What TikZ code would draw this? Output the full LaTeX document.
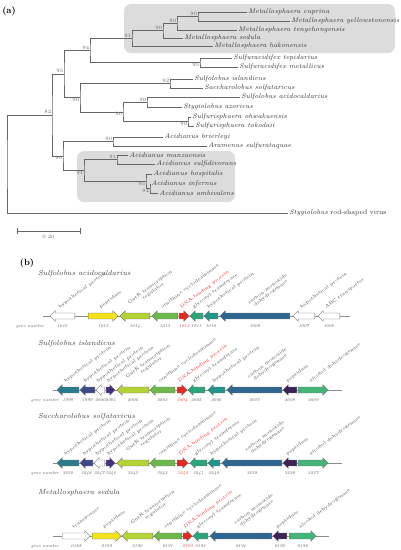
\documentclass[tikz,border=0pt]{standalone}
\usepackage{fontspec}
\usetikzlibrary{calc, shapes.arrows}
\definecolor{boxgrey}{HTML}{DCDCDC}
\definecolor{pepy}{HTML}{F3E21C}
\definecolor{gntr}{HTML}{B4D336}
\definecolor{orn}{HTML}{6DB84A}
\definecolor{dnab}{HTML}{E8281E}
\definecolor{glyc}{HTML}{2DA57A}
\definecolor{hypt}{HTML}{1F958B}
\definecolor{hypb}{HTML}{287C8E}
\definecolor{hypi}{HTML}{3F4889}
\definecolor{hypp}{HTML}{46307E}
\definecolor{codh}{HTML}{2F6690}
\definecolor{pepp}{HTML}{3D2257}
\definecolor{adh}{HTML}{45B477}

\begin{document}
\begin{tikzpicture}[x=1pt, y=-1pt,
  leaf/.style={anchor=west, inner sep=1.2pt, text=black!80, font=\fontsize{6.7}{8}\selectfont\itshape},
  boot/.style={inner sep=0.6pt, text=black!60, font=\fontsize{5}{5.5}\selectfont},
  branch/.style={draw=black!60, line width=0.5pt},
  clade/.style={fill=boxgrey, rounded corners=7pt},
  title/.style={anchor=west, inner sep=0pt, text=black!75, font=\fontsize{7.2}{8}\selectfont\itshape},
  gene/.style={single arrow, draw=black!55, line width=0.3pt, inner xsep=0pt, inner ysep=2.8pt, single arrow head extend=2.4pt, single arrow head indent=0pt, anchor=tail},
  chrom/.style={draw=black!45, line width=0.5pt},
  glab/.style={rotate=37, anchor=south west, inner sep=0.3pt, align=center, font=\fontsize{4.7}{5.1}\selectfont},
  gnum/.style={inner sep=0pt, font=\fontsize{4.3}{5}\selectfont\itshape},
  panel/.style={inner sep=0pt, font=\fontsize{9}{11}\selectfont\bfseries}]
\useasboundingbox (0,0) rectangle (400,550);

\node[panel] (pa) at (9,11) {(a)};
\fill[clade] (124,4) rectangle (395,53);
\fill[clade] (77,151) rectangle (235,202);

\node[leaf] (mcup) at (247,12) {Metallosphaera cuprina};
\node[leaf] (myel) at (290,21) {Metallosphaera yellowstonensis};
\node[leaf] (mten) at (237,30) {Metallosphaera tengchongensis};
\node[leaf] (msed) at (183,38) {Metallosphaera sedula};
\node[leaf] (mhak) at (213,46) {Metallosphaera hakonensis};
\node[leaf] (step) at (232,58) {Sulfuracidifex tepidarius};
\node[leaf] (smet) at (238,67) {Sulfuracidifex metallicus};
\node[leaf] (sisl) at (193,79) {Sulfolobus islandicus};
\node[leaf] (ssol) at (203,88) {Saccharolobus solfataricus};
\node[leaf] (saci) at (240,97) {Sulfolobus acidocaldarius};
\node[leaf] (sazo) at (182,107) {Stygiolobus azoricus};
\node[leaf] (sohw) at (191,117) {Sulfurisphaera ohwakuensis};
\node[leaf] (stok) at (194,126) {Sulfurisphaera tokodaii};
\node[leaf] (abri) at (163,137) {Acidianus brierleyi};
\node[leaf] (asuq) at (207,146) {Aramenus sulfurataquae};
\node[leaf] (aman) at (128,155) {Acidianus manzaensis};
\node[leaf] (asdv) at (155,164) {Acidianus sulfidivorans};
\node[leaf] (ahos) at (152,174) {Acidianus hospitalis};
\node[leaf] (ainf) at (150,184) {Acidianus infernus};
\node[leaf] (aamb) at (158,193) {Acidianus ambivalens};
\node[leaf, font=\fontsize{6.7}{8}\selectfont] (srsv) at (288,213) {\textit{Stygiolobus} rod-shaped virus};

\coordinate (mA) at (198,16.5);
\coordinate (mB) at (177,23);
\coordinate (mC) at (163,30.5);
\coordinate (mD) at (132,38);
\coordinate (sfx) at (200,62.5);
\coordinate (ms) at (90,50);
\coordinate (sA) at (170,83.5);
\coordinate (sB) at (147,102);
\coordinate (sC) at (188,121.5);
\coordinate (sD) at (123,111.75);
\coordinate (sE) at (80,97.6);
\coordinate (up) at (64,73.8);
\coordinate (aA) at (113,141.5);
\coordinate (aB) at (117,159.5);
\coordinate (aC) at (150,188.5);
\coordinate (aD) at (146,181);
\coordinate (aE) at (84,170);
\coordinate (aF) at (63,155.75);
\coordinate (top) at (52,114.8);
\coordinate (root) at (7,164);

\draw[branch] (mcup.west) -| (mA) |- (myel.west);
\draw[branch] (mA) -| (mB) |- (mten.west);
\draw[branch] (mB) -| (mC) |- (msed.west);
\draw[branch] (mC) -| (mD) |- (mhak.west);
\draw[branch] (step.west) -| (sfx) |- (smet.west);
\draw[branch] (mD) -| (ms) |- (sfx);
\draw[branch] (sisl.west) -| (sA) |- (ssol.west);
\draw[branch] (saci.west) -| (sB) |- (sazo.west);
\draw[branch] (sohw.west) -| (sC) |- (stok.west);
\draw[branch] (sB) -| (sD) |- (sC);
\draw[branch] (sA) -| (sE) |- (sD);
\draw[branch] (ms) -| (up) |- (sE);
\draw[branch] (abri.west) -| (aA) |- (asuq.west);
\draw[branch] (aman.west) -| (aB) |- (asdv.west);
\draw[branch] (ainf.west) -| (aC) |- (aamb.west);
\draw[branch] (ahos.west) -| (aD) |- (aC);
\draw[branch] (aB) -| (aE) |- (aD);
\draw[branch] (aA) -| (aF) |- (aE);
\draw[branch] (up) -| (top) |- (aF);
\draw[branch] (top) -| (root) |- (srsv.west);

\node[boot, anchor=south east] (bmA) at (mA) {90};
\node[boot, anchor=south east] (bmB) at (mB) {90};
\node[boot, anchor=south east] (bmC) at (mC) {90};
\node[boot, anchor=south east] (bmD) at (mD) {91};
\node[boot, anchor=north east] (bsfx) at (sfx) {95};
\node[boot, anchor=south east] (bms) at (ms) {94};
\node[boot, anchor=south east] (bsA) at (sA) {92};
\node[boot, anchor=south east] (bsB) at (sB) {90};
\node[boot, anchor=north east] (bsC) at (sC) {90};
\node[boot, anchor=north east] (bsD) at (sD) {90};
\node[boot, anchor=north east] (bsE) at (sE) {90};
\node[boot, anchor=south east] (bup) at (up) {95};
\node[boot, anchor=south east] (baA) at (aA) {90};
\node[boot, anchor=south east] (baB) at (aB) {91};
\node[boot, anchor=north east] (baC) at (aC) {94};
\node[boot, anchor=north east] (baD) at (aD) {95};
\node[boot, anchor=north east] (baE) at (aE) {91};
\node[boot, anchor=north east] (baF) at (aF) {90};
\node[boot, anchor=south east] (btop) at (top) {82};

\coordinate (sb0) at (17,231);
\coordinate (sb1) at (80,231);
\draw[branch, |-|] (sb0) -- (sb1);
\node[boot, anchor=north] (sbl) at ($(sb0)!.5!(sb1)+(0,3)$) {0.20};

\node[panel] (pb) at (27,263) {(b)};

\node[title] (t1) at (38,274) {Sulfolobus acidocaldarius};
\coordinate (r1a) at (43,316);
\coordinate (r1b) at (350,316);
\draw[chrom] (r1a) -- (r1b);
\node[gnum, text=black!65] (gn1) at (30,326) {gene number};
\foreach \num/\tx/\len/\rot/\col/\tcol/\lab in {1016/75/25/180/white/black!70/{hypothetical protein}, 1015/88/30/0/pepy/black!70/{peptidase}, 1014/150/30/180/gntr/black!70/{GntR transcription\\regulator}, 1013/178/26/180/orn/black!70/{ornithine cyclodeaminase}, 1012/179/10/0/dnab/dnab/{DNA-binding protein}, 1011/203/13/180/glyc/black!70/{glycosyl transferase}, 1010/218/14/180/hypt/black!70/{hypothetical protein}, 1009/290/70/180/codh/black!70/{carbon monoxide\\dehydrogenase}, 1007/315/22/180/white/black!70/{hypothetical protein}, 1006/340/22/180/white/black!70/{ABC transporter}}{
  \node[gene, fill=\col, shape border rotate=\rot, minimum height=\len pt] (g\num) at (\tx,316) {};
  \node[gnum, text=\tcol] (n\num) at ($(g\num.tip)!.5!(g\num.tail)+(0,10)$) {\num};
  \node[glab, text=\tcol] (l\num) at ($(g\num.tip)!.5!(g\num.tail)+(-2,-6)$) {\lab};
}

\node[title] (t2) at (38,344) {Sulfolobus islandicus};
\coordinate (r2a) at (53,390);
\coordinate (r2b) at (342,390);
\draw[chrom] (r2a) -- (r2b);
\node[gnum, text=black!65] (gn2) at (45,400) {gene number};
\foreach \num/\tx/\len/\rot/\col/\tcol/\lab in {1998/79/22/180/hypb/black!70/{hypothetical protein}, 1999/95/15/180/hypi/black!70/{hypothetical protein}, 2000/105/9/180/white/black!70/{hypothetical protein}, 2001/106/9/0/hypp/black!70/{hypothetical protein}, 2002/149/32/180/gntr/black!70/{GntR transcription\\regulator}, 2003/175/25/180/orn/black!70/{ornithine cyclodeaminase}, 2004/177/10/0/dnab/dnab/{DNA-binding protein}, 2005/205/17/180/glyc/black!70/{glycosyl transferase}, 2006/225/17/180/hypt/black!70/{hypothetical protein}, 2007/282/55/180/codh/black!70/{carbon monoxide\\dehydrogenase}, 2008/297/14/180/pepp/black!70/{peptidase}, 2009/298/30/0/adh/black!70/{alcohol dehydrogenase}}{
  \node[gene, fill=\col, shape border rotate=\rot, minimum height=\len pt] (g\num) at (\tx,390) {};
  \node[gnum, text=\tcol] (n\num) at ($(g\num.tip)!.5!(g\num.tail)+(0,10)$) {\num};
  \node[glab, text=\tcol] (l\num) at ($(g\num.tip)!.5!(g\num.tail)+(-2,-6)$) {\lab};
}

\node[title] (t3) at (38,417) {Saccharolobus solfataricus};
\coordinate (r3a) at (53,463);
\coordinate (r3b) at (342,463);
\draw[chrom] (r3a) -- (r3b);
\node[gnum, text=black!65] (gn3) at (45,473) {gene number};
\foreach \num/\tx/\len/\rot/\col/\tcol/\lab in {3250/79/22/180/hypb/black!70/{hypothetical protein}, 3248/93/13/180/hypi/black!70/{hypothetical protein}, 3247/105/11/180/white/black!70/{hypothetical protein}, 3246/106/9/0/hypp/black!70/{hypothetical protein}, 3245/149/32/180/gntr/black!70/{GntR transcription\\regulator}, 3243/175/25/180/orn/black!70/{ornithine cyclodeaminase}, 3242/177/11/0/dnab/dnab/{DNA-binding protein}, 3241/207/17/180/glyc/black!70/{glycosyl transferase}, 3240/220/12/180/hypt/black!70/{hypothetical protein}, 3239/282/60/180/codh/black!70/{carbon monoxide\\dehydrogenase}, 3238/297/14/180/pepp/black!70/{peptidase}, 3237/298/30/0/adh/black!70/{alcohol dehydrogenase}}{
  \node[gene, fill=\col, shape border rotate=\rot, minimum height=\len pt] (g\num) at (\tx,463) {};
  \node[gnum, text=\tcol] (n\num) at ($(g\num.tip)!.5!(g\num.tail)+(0,10)$) {\num};
  \node[glab, text=\tcol] (l\num) at ($(g\num.tip)!.5!(g\num.tail)+(-2,-6)$) {\lab};
}

\node[title] (t4) at (38,493) {Metallosphaera sedula};
\coordinate (r4a) at (53,536);
\coordinate (r4b) at (329,536);
\draw[chrom] (r4a) -- (r4b);
\node[gnum, text=black!65] (gn4) at (45,546) {gene number};
\foreach \num/\tx/\len/\rot/\col/\tcol/\lab in {0188/62/28/0/white/black!70/{transposase}, 0189/92/29/0/pepy/black!70/{peptidase}, 0190/153/31/180/gntr/black!70/{GntR transcription\\regulator}, 0191/182/28/180/orn/black!70/{ornithine cyclodeaminase}, 0192/183/9/0/dnab/dnab/{DNA-binding protein}, 0193/208/15/180/glyc/black!70/{glycosyl transferase}, 0194/272/62/180/codh/black!70/{carbon monoxide\\dehydrogenase}, 0195/287/14/180/pepp/black!70/{peptidase}, 0196/289/27/0/adh/black!70/{alcohol dehydrogenase}}{
  \node[gene, fill=\col, shape border rotate=\rot, minimum height=\len pt] (g\num) at (\tx,536) {};
  \node[gnum, text=\tcol] (n\num) at ($(g\num.tip)!.5!(g\num.tail)+(0,10)$) {\num};
  \node[glab, text=\tcol] (l\num) at ($(g\num.tip)!.5!(g\num.tail)+(-2,-6)$) {\lab};
}
\end{tikzpicture}
\end{document}
